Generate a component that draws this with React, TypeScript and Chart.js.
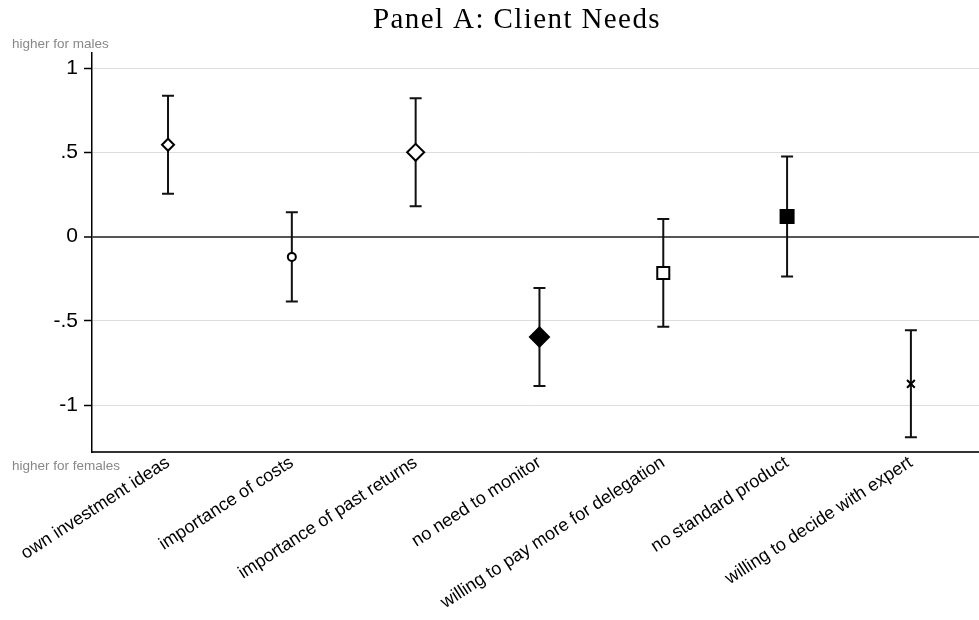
import React, { useEffect, useRef } from "react";
import { Chart, registerables } from "chart.js";

Chart.register(...registerables);

const titleText = "Panel A: Client Needs";
const topNote = "higher for males";
const bottomNote = "higher for females";

const categories = [
  "own investment ideas",
  "importance of costs",
  "importance of past returns",
  "no need to monitor",
  "willing to pay more for delegation",
  "no standard product",
  "willing to decide with expert",
];
const estimates = [0.545, -0.12, 0.5, -0.595, -0.215, 0.12, -0.873];
const lowerCI = [0.255, -0.385, 0.18, -0.885, -0.535, -0.237, -1.19];
const upperCI = [0.835, 0.145, 0.82, -0.305, 0.105, 0.475, -0.555];
const yTicks = [-1, -0.5, 0, 0.5, 1];

const markerStyles = ["rectRot", "circle", "rectRot", "rectRot", "rect", "rect", "crossRot"];
const markerFilled = [false, false, false, true, false, true, false];
const markerSizes = [6, 4, 8.5, 9.5, 8.5, 9.2, 5.5];

const fmtY = (v: number) => {
  if (v === 0) return "0";
  const s = String(Math.abs(v)).replace(/^0/, "");
  return (v < 0 ? "-" : "") + s;
};

const errorBarPlugin = {
  id: "errorBars",
  beforeDatasetsDraw(chart: any) {
    const { ctx } = chart;
    const xs = chart.scales.x;
    const ys = chart.scales.y;
    ctx.save();
    ctx.strokeStyle = "#111";
    ctx.lineWidth = 2;
    ctx.lineCap = "butt";
    for (let i = 0; i < estimates.length; i++) {
      const px = xs.getPixelForValue(i + 1);
      const yl = ys.getPixelForValue(lowerCI[i]);
      const yu = ys.getPixelForValue(upperCI[i]);
      ctx.beginPath();
      ctx.moveTo(px, yl);
      ctx.lineTo(px, yu);
      ctx.moveTo(px - 6, yl);
      ctx.lineTo(px + 6, yl);
      ctx.moveTo(px - 6, yu);
      ctx.lineTo(px + 6, yu);
      ctx.stroke();
    }
    ctx.restore();
  },
};

const textPlugin = {
  id: "texts",
  afterDraw(chart: any) {
    const { ctx } = chart;
    ctx.save();
    ctx.fillStyle = "#000";
    ctx.font = '29px "Liberation Serif", "DejaVu Serif", serif';
    try {
      (ctx as any).letterSpacing = "1.4px";
    } catch (e) {}
    ctx.textAlign = "center";
    ctx.textBaseline = "alphabetic";
    ctx.fillText(titleText, 517, 28);
    try {
      (ctx as any).letterSpacing = "0px";
    } catch (e) {}
    ctx.fillStyle = "#888";
    ctx.font = '13.5px "Liberation Sans", Arial, sans-serif';
    ctx.textAlign = "left";
    ctx.fillText(topNote, 12, 48);
    ctx.fillText(bottomNote, 12, 470);
    ctx.restore();
  },
};

export default function App() {
  const ref = useRef<HTMLCanvasElement>(null);
  useEffect(() => {
    if (!ref.current) return;
    const chart = new Chart(ref.current, {
      type: "scatter",
      data: {
        datasets: [
          {
            data: estimates.map((v, i) => ({ x: i + 1, y: v })),
            showLine: false,
            pointStyle: markerStyles as any,
            pointRadius: markerSizes,
            pointHoverRadius: markerSizes,
            pointBackgroundColor: markerFilled.map((f) => (f ? "#000" : "#fff")),
            pointBorderColor: "#000",
            pointBorderWidth: 2,
          },
        ],
      },
      plugins: [errorBarPlugin, textPlugin],
      options: {
        responsive: false,
        animation: false,
        devicePixelRatio: 1,
        layout: { autoPadding: false, padding: { top: 53, left: 0, right: 0, bottom: 0 } },
        plugins: {
          legend: { display: false },
          tooltip: { enabled: false },
          title: { display: false },
        },
        scales: {
          x: {
            type: "linear",
            min: 0.386,
            max: 7.55,
            afterBuildTicks: (scale: any) => {
              scale.ticks = categories.map((_, i) => ({ value: i + 1 }));
            },
            afterFit: (scale: any) => {
              scale.height = 168;
              scale.paddingLeft = 0;
              scale.paddingRight = 0;
            },
            grid: { display: false, drawTicks: false },
            border: { display: true, color: "#333", width: 2 },
            ticks: {
              autoSkip: false,
              minRotation: 33,
              maxRotation: 33,
              padding: 0,
              color: "#000",
              font: { family: '"Liberation Sans", Arial, sans-serif', size: 18 },
              callback: (v: any) => categories[Math.round(v) - 1] ?? "",
            },
          },
          y: {
            min: -1.277,
            max: 1.089,
            afterBuildTicks: (scale: any) => {
              scale.ticks = yTicks.map((v) => ({ value: v }));
            },
            afterFit: (scale: any) => {
              scale.width = 92;
              scale.paddingTop = 0;
              scale.paddingBottom = 0;
            },
            grid: {
              color: (c: any) => (c.tick && c.tick.value === 0 ? "#555" : "#ddd"),
              lineWidth: (c: any) => (c.tick && c.tick.value === 0 ? 2 : 1),
              tickColor: "#000",
              tickWidth: 1.5,
              tickLength: 8,
              drawTicks: true,
            },
            border: { display: true, color: "#000", width: 1.5 },
            ticks: {
              autoSkip: false,
              padding: 6,
              color: "#000",
              font: { family: '"Liberation Sans", Arial, sans-serif', size: 21 },
              callback: (v: any) => fmtY(Number(v)),
            },
          },
        },
      },
    });
    return () => chart.destroy();
  }, []);
  return (
    <div style={{ position: "absolute", left: 0, top: 0, width: 979, height: 620 }}>
      <canvas ref={ref} width={979} height={620} />
    </div>
  );
}
